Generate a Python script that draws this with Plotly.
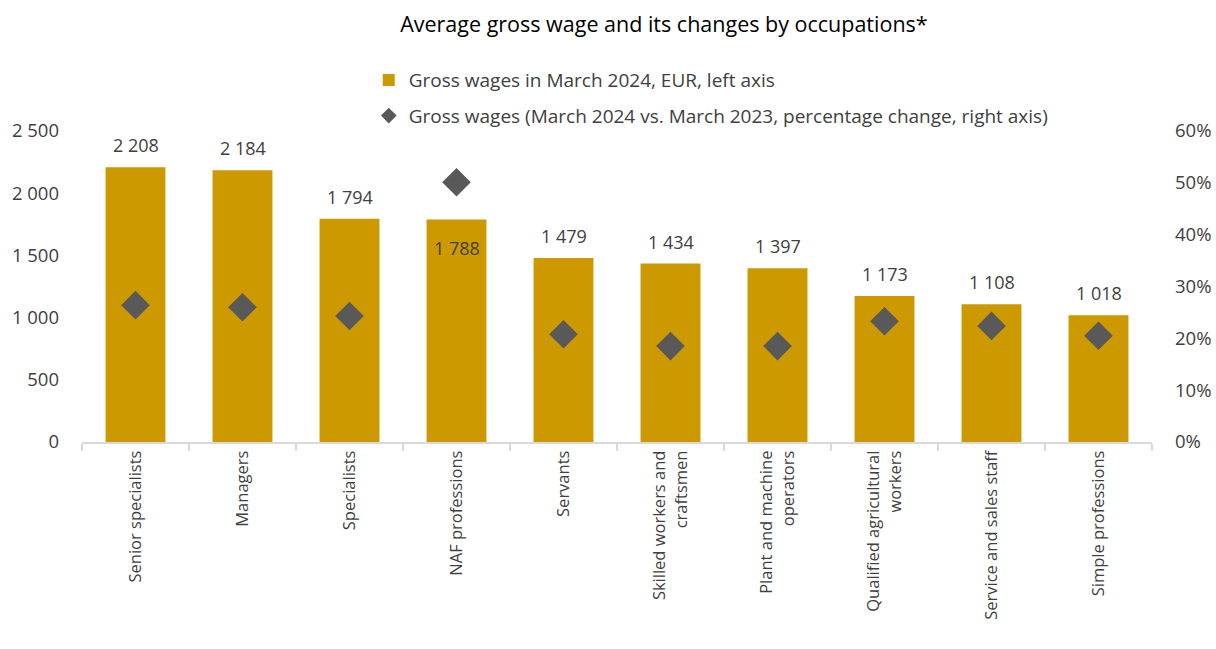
import plotly.graph_objects as go

categories = [
    "Senior specialists",
    "Managers",
    "Specialists",
    "NAF professions",
    "Servants",
    "Skilled workers and<br>craftsmen",
    "Plant and machine<br>operators",
    "Qualified agricultural<br>workers",
    "Service and sales staff",
    "Simple professions",
]
wages_eur = [2208, 2184, 1794, 1788, 1479, 1434, 1397, 1173, 1108, 1018]
wage_change = [0.264, 0.260, 0.243, 0.501, 0.208, 0.185, 0.185, 0.233, 0.224, 0.205]
wage_labels = ["2 208", "2 184", "1 794", "1 788", "1 479", "1 434", "1 397", "1 173", "1 108", "1 018"]
# label placed inside the bar where the diamond sits above it
label_inside = [False, False, False, True, False, False, False, False, False, False]

FONT = "Open Sans"
GOLD = "#CC9900"
GREY = "#595959"
TEXT = "#404040"

fig = go.Figure()

fig.add_trace(go.Bar(
    x=categories,
    y=wages_eur,
    name="Gross wages in March 2024, EUR, left axis",
    marker=dict(color=GOLD, line=dict(width=0)),
    yaxis="y",
    legendgroup="a",
))

fig.add_trace(go.Scatter(
    x=categories,
    y=wage_change,
    name="Gross wages (March 2024 vs. March 2023, percentage change, right axis)",
    mode="markers",
    marker=dict(symbol="diamond", size=22, color=GREY),
    yaxis="y2",
    legendgroup="b",
))

for cat, val, lab, inside in zip(categories, wages_eur, wage_labels, label_inside):
    fig.add_annotation(
        x=cat, y=val, xref="x", yref="y",
        text=lab, showarrow=False,
        yanchor="top" if inside else "bottom",
        yshift=-14 if inside else 8,
        font=dict(family=FONT, size=18, color=TEXT),
    )

fig.update_layout(
    width=1216, height=649,
    margin=dict(l=82, r=64, t=131, b=207, autoexpand=False),
    paper_bgcolor="white", plot_bgcolor="white",
    separators=". ",
    font=dict(family=FONT, size=17, color=TEXT),
    title=dict(
        text="Average gross wage and its changes by occupations*",
        x=0.546, xanchor="center", y=0.962, yanchor="middle",
        font=dict(family=FONT, size=21.5, color="#000000"),
    ),
    bargap=0.44,
    showlegend=True,
    legend=dict(
        x=0.268, y=1.225, xanchor="left", yanchor="top",
        orientation="v", itemsizing="constant", tracegroupgap=8, itemwidth=30,
        font=dict(family=FONT, size=19, color=TEXT),
        bgcolor="rgba(0,0,0,0)",
    ),
    xaxis=dict(
        type="category",
        range=[-0.5, len(categories) - 0.5],
        tickangle=-90,
        showline=True, linecolor="#D9D9D9", linewidth=2,
        ticks="outside", tickson="boundaries", ticklen=7, tickcolor="#D9D9D9", tickwidth=2,
        showgrid=False,
        tickfont=dict(family=FONT, size=16.5, color=TEXT),
    ),
    yaxis=dict(
        range=[0, 2500], dtick=500, tickformat=",d",
        showgrid=False, zeroline=False, showline=False,
        tickfont=dict(family=FONT, size=18.5, color=TEXT),
        ticklabelstandoff=22,
    ),
    yaxis2=dict(
        overlaying="y", side="right",
        range=[0, 0.6], dtick=0.1, tickformat=".0%",
        showgrid=False, zeroline=False, showline=False,
        tickfont=dict(family=FONT, size=18.5, color=TEXT),
        ticklabelstandoff=22,
    ),
)

fig.write_html("out.html")
